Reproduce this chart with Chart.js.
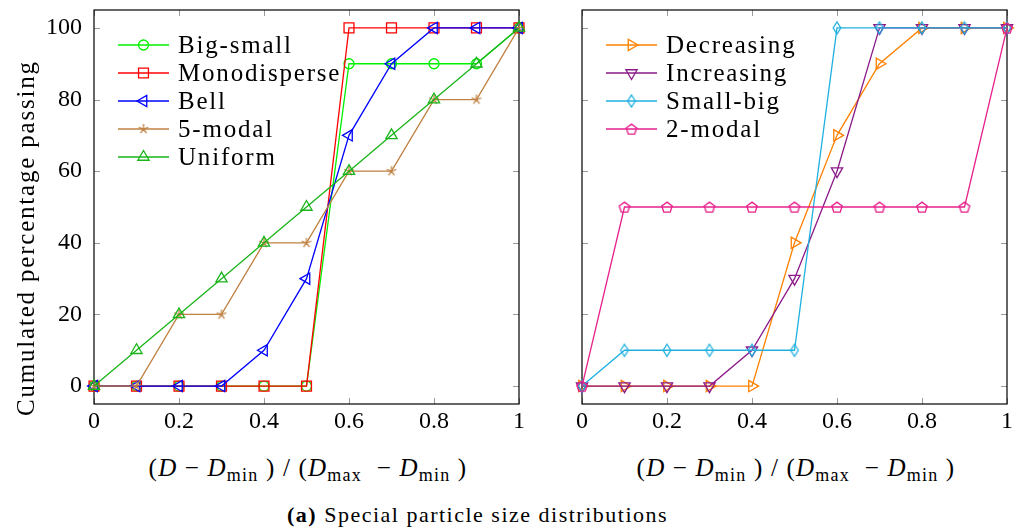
<!DOCTYPE html>
<html>
<head>
<meta charset="utf-8">
<script src="https://cdn.jsdelivr.net/npm/chart.js@4/dist/chart.umd.min.js"></script>
<style>
  body { margin: 0; background: #fff; width: 1026px; height: 530px; position: relative; overflow: hidden; font-family: 'Liberation Serif', serif; color: #000; }
  #leftChart { position: absolute; left: 0; top: 0; }
  #rightChart { position: absolute; left: 560px; top: 0; }
  .xtitle { position: absolute; top: 454px; font-size: 25px; letter-spacing: 1.2px; white-space: nowrap; transform: translateX(-50%); }
  .xtitle sub { font-size: 18px; vertical-align: -5px; }
  .caption { position: absolute; top: 502px; left: 287px; font-size: 22px; letter-spacing: 1.5px; white-space: nowrap; }
</style>
</head>
<body>
<canvas id="leftChart" width="540" height="440"></canvas>
<canvas id="rightChart" width="466" height="440"></canvas>
<div class="xtitle" style="left:308px">(<i>D</i> &minus; <i>D</i><sub>min</sub>&nbsp;) / (<i>D</i><sub>max</sub>&nbsp; &minus; <i>D</i><sub>min</sub>&nbsp;)</div>
<div class="xtitle" style="left:796px">(<i>D</i> &minus; <i>D</i><sub>min</sub>&nbsp;) / (<i>D</i><sub>max</sub>&nbsp; &minus; <i>D</i><sub>min</sub>&nbsp;)</div>
<div class="caption"><b>(a)</b> Special particle size distributions</div>
<script>
// x positions shared by every series
const xValues = [0, 0.1, 0.2, 0.3, 0.4, 0.5, 0.6, 0.7, 0.8, 0.9, 1];
const xTicks = [0, 0.2, 0.4, 0.6, 0.8, 1];
const yTicks = [0, 20, 40, 60, 80, 100];

// left panel
const bigSmall = [0, 0, 0, 0, 0, 0, 90, 90, 90, 90, 100];
const monodisperse = [0, 0, 0, 0, 0, 0, 100, 100, 100, 100, 100];
const bell = [0, 0, 0, 0, 10, 30, 70, 90, 100, 100, 100];
const fiveModal = [0, 0, 20, 20, 40, 40, 60, 60, 80, 80, 100];
const uniform = [0, 10, 20, 30, 40, 50, 60, 70, 80, 90, 100];

// right panel
const decreasing = [0, 0, 0, 0, 0, 40, 70, 90, 100, 100, 100];
const increasing = [0, 0, 0, 0, 10, 30, 60, 100, 100, 100, 100];
const smallBig = [0, 10, 10, 10, 10, 10, 100, 100, 100, 100, 100];
const twoModal = [0, 50, 50, 50, 50, 50, 50, 50, 50, 50, 100];

const yTitle = "Cumulated percentage passing";

const FONT = "'Liberation Serif', serif";

// hand-drawn marks that chart.js does not have
const makeMark = (kind, color) => {
  const c = document.createElement("canvas");
  c.width = 16;
  c.height = 16;
  const g = c.getContext("2d");
  g.strokeStyle = color;
  g.lineWidth = 1.3;
  g.beginPath();
  if (kind === "pentagon") {
    for (let i = 0; i < 5; i++) {
      const a = -Math.PI / 2 + (i * 2 * Math.PI) / 5;
      const px = 8 + 5.5 * Math.cos(a);
      const py = 8.6 + 5.5 * Math.sin(a);
      if (i === 0) g.moveTo(px, py);
      else g.lineTo(px, py);
    }
    g.closePath();
  } else if (kind === "star") {
    for (let i = 0; i < 5; i++) {
      const a = -Math.PI / 2 + (i * 2 * Math.PI) / 5;
      g.moveTo(8, 8);
      g.lineTo(8 + 5 * Math.cos(a), 8 + 5 * Math.sin(a));
    }
  } else if (kind === "diamond") {
    g.moveTo(8, 2);
    g.lineTo(11.8, 8);
    g.lineTo(8, 14);
    g.lineTo(4.2, 8);
    g.closePath();
  }
  g.stroke();
  return c;
};

const series = (label, values, color, style, radius, rotation) => ({
  label: label,
  data: values.map((v, i) => ({ x: xValues[i], y: v })),
  borderColor: color,
  borderWidth: 1.3,
  pointStyle: style,
  pointRadius: radius,
  pointRotation: rotation || 0,
  pointBorderColor: color,
  pointBackgroundColor: "rgba(0,0,0,0)",
  pointBorderWidth: 1.3,
  tension: 0,
  clip: false,
});

// grey inward ticks and black frame
const framePlugin = {
  id: "frame",
  beforeDatasetsDraw(chart) {
    const { ctx, chartArea: a, scales } = chart;
    ctx.save();
    ctx.strokeStyle = "#9a9a9a";
    ctx.lineWidth = 1;
    ctx.beginPath();
    xTicks.forEach((v) => {
      const px = Math.round(scales.x.getPixelForValue(v)) + 0.5;
      ctx.moveTo(px, a.top);
      ctx.lineTo(px, a.top + 6);
      ctx.moveTo(px, a.bottom);
      ctx.lineTo(px, a.bottom - 6);
    });
    yTicks.forEach((v) => {
      const py = Math.round(scales.y.getPixelForValue(v)) + 0.5;
      ctx.moveTo(a.left, py);
      ctx.lineTo(a.left + 6, py);
      ctx.moveTo(a.right, py);
      ctx.lineTo(a.right - 6, py);
    });
    ctx.stroke();
    ctx.strokeStyle = "#000";
    ctx.lineWidth = 1.2;
    ctx.strokeRect(a.left, a.top, a.right - a.left, a.bottom - a.top);
    ctx.restore();
  },
};

// legend inside the plot, line with mark through it
const innerLegend = {
  id: "innerLegend",
  afterDatasetsDraw(chart, args, opts) {
    const ctx = chart.ctx;
    ctx.save();
    ctx.font = "25px " + FONT;
    ctx.letterSpacing = "1.8px";
    ctx.textBaseline = "middle";
    chart.data.datasets.forEach((ds, i) => {
      const y = opts.top + i * 28;
      ctx.strokeStyle = ds.borderColor;
      ctx.lineWidth = 1.3;
      ctx.beginPath();
      ctx.moveTo(opts.x, y);
      ctx.lineTo(opts.x + 51, y);
      ctx.stroke();
      ctx.fillStyle = "rgba(0,0,0,0)";
      Chart.helpers.drawPoint(
        ctx,
        {
          pointStyle: ds.pointStyle,
          radius: ds.pointRadius,
          rotation: ds.pointRotation,
          borderWidth: 1.3,
        },
        opts.x + 25.5,
        y
      );
      ctx.fillStyle = "#000";
      ctx.fillText(ds.label, opts.x + 60, y + 1);
    });
    ctx.restore();
  },
};

// rotated y title, bottom-anchored like the reference
const yTitlePlugin = {
  id: "yTitle",
  afterDraw(chart, args, opts) {
    if (!opts.text) return;
    const ctx = chart.ctx;
    ctx.save();
    ctx.translate(27, 416);
    ctx.rotate(-Math.PI / 2);
    ctx.font = "25px " + FONT;
    ctx.letterSpacing = "1.8px";
    ctx.textAlign = "left";
    ctx.textBaseline = "middle";
    ctx.fillStyle = "#000";
    ctx.fillText(opts.text, 0, 0);
    ctx.restore();
  },
};

const makeOptions = (isLeft, legendX) => ({
  responsive: false,
  animation: false,
  events: [],
  layout: { padding: { top: 10, right: isLeft ? 21 : 19, left: 0, bottom: 0 } },
  plugins: {
    legend: { display: false },
    tooltip: { enabled: false },
    innerLegend: { x: legendX, top: 45 },
    yTitle: { text: isLeft ? yTitle : "" },
  },
  scales: {
    x: {
      type: "linear",
      min: 0,
      max: 1,
      grid: { display: false, drawTicks: false },
      border: { display: false },
      afterBuildTicks: (s) => {
        s.ticks = xTicks.map((v) => ({ value: v }));
      },
      afterFit: (s) => {
        s.height = 36;
      },
      ticks: {
        padding: 3,
        color: "#000",
        font: { family: FONT, size: 24 },
        maxRotation: 0,
        callback: (v) => String(v),
      },
    },
    y: {
      type: "linear",
      min: -5,
      max: 105,
      grid: { display: false, drawTicks: false },
      border: { display: false },
      afterBuildTicks: (s) => {
        s.ticks = yTicks.map((v) => ({ value: v }));
      },
      afterFit: (s) => {
        s.width = isLeft ? 94 : 22;
        s.paddingTop = 0;
        s.paddingBottom = 0;
      },
      ticks: {
        display: isLeft,
        padding: 12,
        color: "#000",
        font: { family: FONT, size: 24 },
        callback: (v) => String(v),
      },
    },
  },
});

const withOrder = (list) => list.map((d, i) => ({ ...d, order: list.length - i }));

const leftSets = withOrder([
  series("Big-small", bigSmall, "#00f000", "circle", 5),
  series("Monodisperse", monodisperse, "#ff0000", "rect", 7),
  series("Bell", bell, "#0000ff", "triangle", 6.5, -90),
  series("5-modal", fiveModal, "#bf8040", makeMark("star", "#bf8040"), 6),
  series("Uniform", uniform, "#19b419", "triangle", 6.5),
]);

const rightSets = withOrder([
  series("Decreasing", decreasing, "#ff8000", "triangle", 6.5, 90),
  series("Increasing", increasing, "#8a1a8a", "triangle", 6.5, 180),
  series("Small-big", smallBig, "#1fb0e0", makeMark("diamond", "#1fb0e0"), 7),
  series("2-modal", twoModal, "#e6208c", makeMark("pentagon", "#e6208c"), 7),
]);

new Chart(document.getElementById("leftChart").getContext("2d"), {
  type: "line",
  data: { datasets: leftSets },
  options: makeOptions(true, 118),
  plugins: [framePlugin, innerLegend, yTitlePlugin],
});

new Chart(document.getElementById("rightChart").getContext("2d"), {
  type: "line",
  data: { datasets: rightSets },
  options: makeOptions(false, 46),
  plugins: [framePlugin, innerLegend, yTitlePlugin],
});
</script>
</body>
</html>
